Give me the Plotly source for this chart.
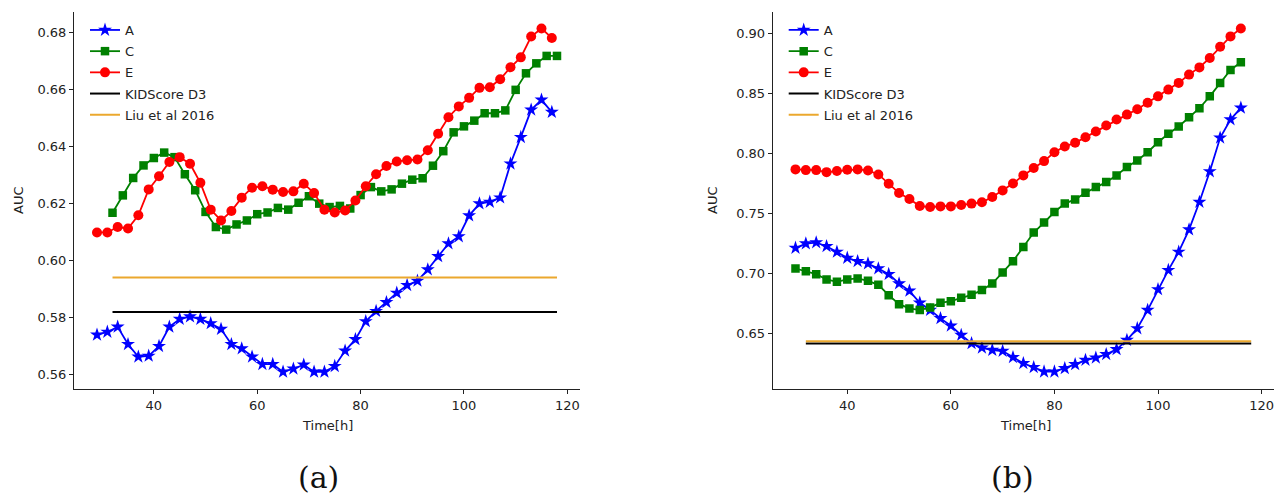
import plotly.graph_objects as go

# ---------------- data ----------------
# Panel (a)
a_x_A = list(range(29, 118, 2))
a_A = [0.5739, 0.5749, 0.5767, 0.5706, 0.5662, 0.5665, 0.5699, 0.5767, 0.5794, 0.5803,
       0.5794, 0.5779, 0.5759, 0.5706, 0.5691, 0.5662, 0.5636, 0.5636, 0.5609, 0.5620,
       0.5634, 0.5609, 0.5609, 0.5629, 0.5683, 0.5723, 0.5786, 0.5822, 0.5853, 0.5886,
       0.5913, 0.5928, 0.5968, 0.6014, 0.6059, 0.6084, 0.6157, 0.6199, 0.6205, 0.6220,
       0.6339, 0.6432, 0.6528, 0.6563, 0.6520]
a_x_C = list(range(32, 119, 2))
a_C = [0.6167, 0.6228, 0.6289, 0.6333, 0.6359, 0.6378, 0.6362, 0.6302, 0.6246, 0.6170,
       0.6117, 0.6108, 0.6126, 0.6140, 0.6162, 0.6168, 0.6184, 0.6178, 0.6202, 0.6225,
       0.6199, 0.6187, 0.6191, 0.6182, 0.6229, 0.6257, 0.6242, 0.6249, 0.6269, 0.6283,
       0.6288, 0.6332, 0.6383, 0.6449, 0.6470, 0.6490, 0.6516, 0.6516, 0.6526, 0.6598,
       0.6656, 0.6691, 0.6717, 0.6717]
a_x_E = list(range(29, 118, 2))
a_E = [0.6098, 0.6098, 0.6117, 0.6112, 0.6158, 0.6249, 0.6295, 0.6345, 0.6362, 0.6339,
       0.6272, 0.6178, 0.6140, 0.6173, 0.6220, 0.6255, 0.6260, 0.6248, 0.6240, 0.6242,
       0.6269, 0.6236, 0.6178, 0.6168, 0.6175, 0.6210, 0.6260, 0.6302, 0.6331, 0.6347,
       0.6351, 0.6354, 0.6386, 0.6444, 0.6502, 0.6540, 0.6570, 0.6605, 0.6607, 0.6635,
       0.6677, 0.6712, 0.6785, 0.6813, 0.6780]
a_kid = 0.5819
a_liu = 0.5940

# Panel (b)
b_x = list(range(30, 117, 2))
b_A = [0.7211, 0.7247, 0.7256, 0.7225, 0.7178, 0.7128, 0.7100, 0.7081, 0.7040, 0.6993,
       0.6915, 0.6854, 0.6754, 0.6694, 0.6625, 0.6563, 0.6486, 0.6417, 0.6380, 0.6361,
       0.6353, 0.6301, 0.6251, 0.6218, 0.6181, 0.6181, 0.6209, 0.6242, 0.6278, 0.6297,
       0.6326, 0.6367, 0.6444, 0.6541, 0.6694, 0.6866, 0.7026, 0.7178, 0.7364, 0.7593,
       0.7848, 0.8128, 0.8280, 0.8377]
b_C = [0.7040, 0.7017, 0.6993, 0.6949, 0.6929, 0.6949, 0.6957, 0.6937, 0.6904, 0.6818,
       0.6743, 0.6708, 0.6694, 0.6716, 0.6754, 0.6768, 0.6796, 0.6821, 0.6860, 0.6915,
       0.7007, 0.7101, 0.7219, 0.7339, 0.7422, 0.7510, 0.7580, 0.7615, 0.7671, 0.7718,
       0.7759, 0.7815, 0.7884, 0.7939, 0.8008, 0.8091, 0.8161, 0.8222, 0.8299, 0.8374,
       0.8473, 0.8585, 0.8693, 0.8756]
b_E = [0.7865, 0.7859, 0.7859, 0.7842, 0.7851, 0.7862, 0.7865, 0.7856, 0.7823, 0.7746,
       0.7668, 0.7618, 0.7560, 0.7552, 0.7557, 0.7557, 0.7568, 0.7580, 0.7591, 0.7635,
       0.7690, 0.7748, 0.7815, 0.7876, 0.7934, 0.8008, 0.8056, 0.8086, 0.8133, 0.8180,
       0.8230, 0.8280, 0.8321, 0.8365, 0.8419, 0.8473, 0.8529, 0.8585, 0.8654, 0.8714,
       0.8792, 0.8886, 0.8972, 0.9038]
b_kid = 0.6416
b_liu = 0.6434

ref_x = [32, 118]

series_names = ["A", "C", "E", "KIDScore D3", "Liu et al 2016"]
x_ticks = [40, 60, 80, 100, 120]
a_y_ticks = [0.56, 0.58, 0.60, 0.62, 0.64, 0.66, 0.68]
b_y_ticks = [0.65, 0.70, 0.75, 0.80, 0.85, 0.90]
captions = ["(a)", "(b)"]

# ---------------- style ----------------
BLUE, GREEN, RED, BLACK, ORANGE = "#0000ff", "#008000", "#ff0000", "#000000", "#EBA82E"
FONT = "DejaVu Sans"
OFF = 8  # page body margin in the browser
W, H = 1282 - 2 * OFF, 500 - OFF


def px(xs):
    """screen x (px) -> paper fraction"""
    return min(1.0, (xs - OFF) / W)


def py(ys):
    """screen y (px from top) -> paper fraction"""
    return 1 - (ys - OFF) / H


fig = go.Figure()


def add_panel(xa, ya, leg, xA, yA, xC, yC, xE, yE, kid, liu):
    common = dict(xaxis=xa, yaxis=ya, legend=leg, mode="lines+markers")
    fig.add_trace(go.Scatter(x=xA, y=yA, name=series_names[0], legendgroup=leg + "A",
                             line=dict(color=BLUE, width=1.8),
                             marker=dict(symbol="star", size=10.5, color=BLUE), **common))
    fig.add_trace(go.Scatter(x=xC, y=yC, name=series_names[1], legendgroup=leg + "C",
                             line=dict(color=GREEN, width=1.8),
                             marker=dict(symbol="square", size=8.5, color=GREEN), **common))
    fig.add_trace(go.Scatter(x=xE, y=yE, name=series_names[2], legendgroup=leg + "E",
                             line=dict(color=RED, width=1.8),
                             marker=dict(symbol="circle", size=10, color=RED), **common))
    fig.add_trace(go.Scatter(x=ref_x, y=[kid, kid], name=series_names[3], mode="lines",
                             legendgroup=leg + "K",
                             line=dict(color=BLACK, width=2), xaxis=xa, yaxis=ya, legend=leg))
    fig.add_trace(go.Scatter(x=ref_x, y=[liu, liu], name=series_names[4], mode="lines",
                             legendgroup=leg + "L",
                             line=dict(color=ORANGE, width=2), xaxis=xa, yaxis=ya, legend=leg))


add_panel("x", "y", "legend", a_x_A, a_A, a_x_C, a_C, a_x_E, a_E, a_kid, a_liu)
add_panel("x2", "y2", "legend2", b_x, b_A, b_x, b_C, b_x, b_E, b_kid, b_liu)

ydom = [py(389), py(12)]
axis_common = dict(showline=True, linecolor="#222", linewidth=1, mirror=False,
                   ticks="outside", ticklen=4, tickwidth=1, tickcolor="#222",
                   showgrid=False, zeroline=False, automargin=False,
                   ticklabeloverflow="allow",
                   tickfont=dict(family=FONT, size=13, color="#222"))

leg_common = dict(xanchor="left", yanchor="top", bgcolor="rgba(0,0,0,0)",
                  font=dict(family=FONT, size=13, color="#222"),
                  itemwidth=30, tracegroupgap=1.3)

fig.update_layout(
    width=W, height=H,
    margin=dict(l=0, r=0, t=0, b=0, autoexpand=False),
    paper_bgcolor="white", plot_bgcolor="white",
    font=dict(family=FONT, size=13, color="#222"),
    xaxis=dict(domain=[px(74), px(580)], range=[24.55, 122.45], tickvals=x_ticks,
               anchor="y", **axis_common),
    yaxis=dict(domain=ydom, range=[0.5549, 0.6871], tickvals=a_y_ticks,
               tickformat=".2f", anchor="x", **axis_common),
    xaxis2=dict(domain=[px(772.7), px(1274)], range=[25.6, 122.4], tickvals=x_ticks,
                anchor="y2", **axis_common),
    yaxis2=dict(domain=ydom, range=[0.6037, 0.9175], tickvals=b_y_ticks,
                tickformat=".2f", anchor="x2", **axis_common),
    legend=dict(x=px(85), y=py(15), **leg_common),
    legend2=dict(x=px(85 + 698.7), y=py(15), **leg_common),
    showlegend=True,
)

lab_font = dict(family=FONT, size=13, color="#222")
cap_font = dict(family="DejaVu Serif", size=30, color="#111")
annotations = [
    dict(text="Time[h]", x=px(327), y=py(425), font=lab_font),
    dict(text="Time[h]", x=px(1025), y=py(425), font=lab_font),
    dict(text="AUC", x=px(18), y=py(200), textangle=-90, font=lab_font),
    dict(text="AUC", x=px(712), y=py(200), textangle=-90, font=lab_font),
    dict(text=captions[0], x=px(318), y=py(477), font=cap_font),
    dict(text=captions[1], x=px(1012), y=py(477), font=cap_font),
]
for a in annotations:
    a.update(xref="paper", yref="paper", showarrow=False, xanchor="center", yanchor="middle")
fig.update_layout(annotations=annotations)

fig.write_html("out.html")
